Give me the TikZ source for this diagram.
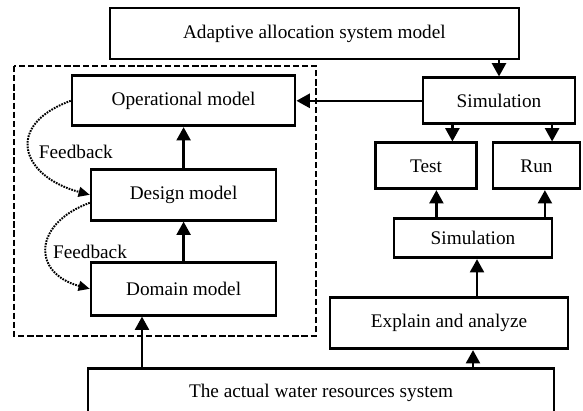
\documentclass[tikz,border=0pt]{standalone}
\usepackage{fontspec}
\setmainfont{Liberation Serif}
\usetikzlibrary{arrows.meta}
\tikzstyle{block} = [rectangle, minimum width=2.5cm, minimum height=1.275cm, text centered, draw=black, line width=1.9pt, font=\fontsize{13.7}{16}\selectfont]
\tikzstyle{arrow} = [line width=1.7pt, -{Triangle[width=10pt, length=9.5pt]}]
\tikzstyle{feedback} = [line width=1.4pt, dash pattern=on 1.2pt off 0.8pt, -{Triangle[width=7pt, length=8pt]}]
\tikzstyle{dashbox} = [line width=1.4pt, dash pattern=on 4.5pt off 2pt]

\begin{document}
\begin{tikzpicture}[node distance=2.35cm]
        \useasboundingbox (0,0) rectangle (14.575,-10.275);
        \node (top) [block, minimum width=10.225cm] at (7.86,-0.84) {Adaptive allocation system model};
        \node (op) [block, minimum width=5.575cm, minimum height=1.25cm] at (4.59,-2.52) {Operational model};
        \node (design) [block, minimum width=4.625cm, below of=op] {Design model};
        \node (domain) [block, minimum width=4.625cm, minimum height=1.325cm, below of=design] {Domain model};
        \node (sim1) [block, minimum width=3.8cm, minimum height=1.15cm, right of=op, xshift=5.535cm] {Simulation};
        \node (test) [block, minimum width=2.525cm, minimum height=1.15cm, below of=sim1, xshift=-1.825cm, yshift=0.725cm] {Test};
        \node (run) [block, minimum width=2.175cm, minimum height=1.15cm, right of=test, xshift=0.4125cm] {Run};
        \node (sim2) [block, minimum width=3.95cm, minimum height=0.975cm, below of=test, xshift=1.175cm, yshift=0.5375cm] {Simulation};
        \node (explain) [block, minimum width=5.95cm, below of=sim2, xshift=-0.6cm, yshift=0.225cm] {Explain and analyze};
        \node (actual) [block, minimum width=11.65cm, minimum height=1.25cm, below of=domain, xshift=3.4375cm, yshift=-0.2625cm] {The actual water resources system};

        \draw [dashbox] (0.35,-1.65) rectangle (7.9,-8.4);

        \draw [arrow] (sim1.north |- top.south) -- (sim1.north);
        \draw [arrow] (sim1.west) -- (sim1.west -| op.east);
        \draw [arrow] ([xshift=0.66cm]test.north |- sim1.south) -- ([xshift=0.66cm]test.north);
        \draw [arrow] ([xshift=0.39cm]run.north |- sim1.south) -- ([xshift=0.39cm]run.north);
        \draw [arrow] ([xshift=0.26cm]test.south |- sim2.north) -- ([xshift=0.26cm]test.south);
        \draw [arrow] ([xshift=0.21cm]run.south |- sim2.north) -- ([xshift=0.21cm]run.south);
        \draw [arrow] ([xshift=0.1cm]sim2.south |- explain.north) -- ([xshift=0.1cm]sim2.south);
        \draw [arrow] ([xshift=0.6cm]explain.south |- actual.north) -- ([xshift=0.6cm]explain.south);
        \draw [arrow] ([xshift=-1.04cm]domain.south |- actual.north) -- ([xshift=-1.04cm]domain.south);
        \draw [arrow] (domain.north) -- (design.south);
        \draw [arrow] (design.north) -- (design.north |- op.south);

        \draw [feedback] (op.west) to[out=200, in=165, looseness=1.9] node[pos=0.5, anchor=west, xshift=0.1cm, yshift=-0.05cm, font=\fontsize{13.7}{16}\selectfont] {Feedback} (design.west);
        \draw [feedback] ([yshift=-0.2cm]design.west) to[out=200, in=165, looseness=1.8] node[pos=0.5, anchor=west, xshift=0.02cm, yshift=-0.1cm, font=\fontsize{13.7}{16}\selectfont] {Feedback} (domain.west);

      \end{tikzpicture}
\end{document}
